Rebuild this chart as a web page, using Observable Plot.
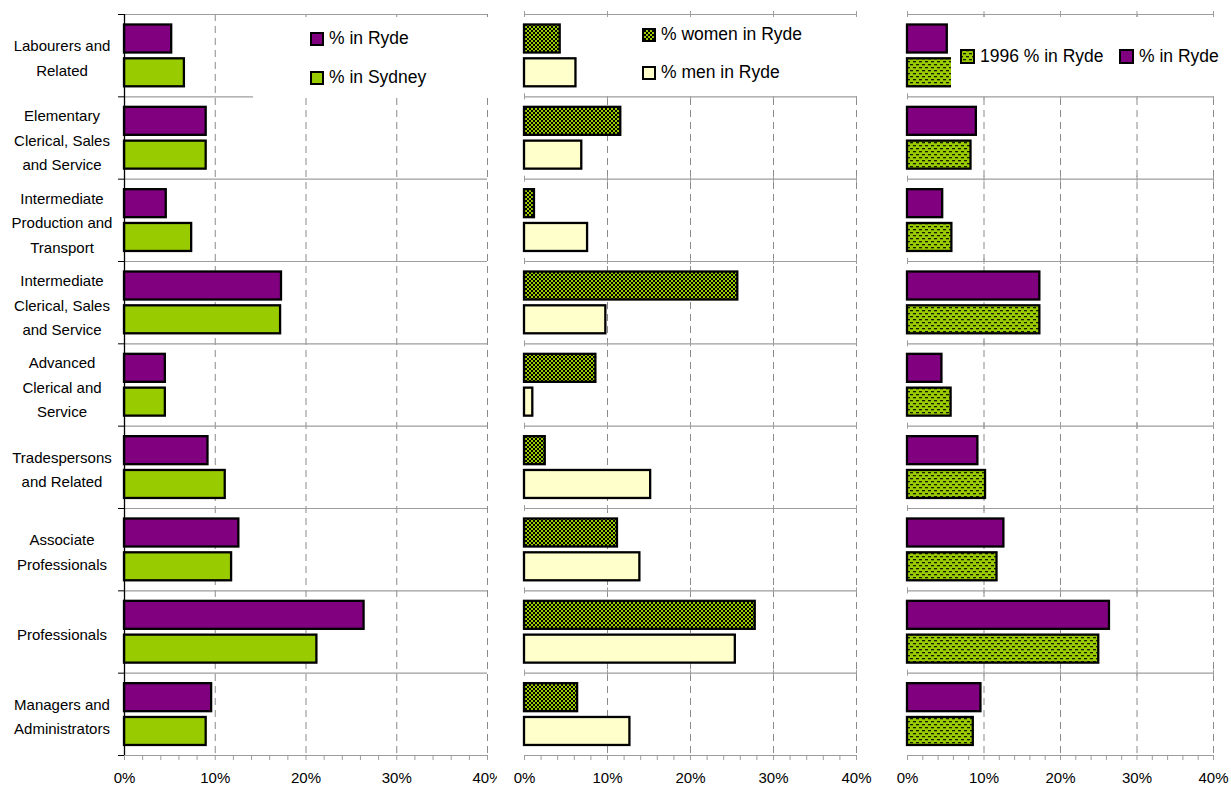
<!DOCTYPE html>
<html>
<head>
<meta charset="utf-8">
<script src="https://cdn.jsdelivr.net/npm/d3@7"></script>
<script src="https://cdn.jsdelivr.net/npm/@observablehq/plot@0.6"></script>
<style>
  body { margin: 0; background: #fff; color: #000; }
  #chart { position: relative; width: 1231px; height: 787px; overflow: hidden; font-family: "Liberation Sans", Arial, sans-serif; }
  .box { position: absolute; background: #fff; }
  .item { position: absolute; display: flex; align-items: center; white-space: nowrap; font-size: 17.5px; line-height: 1; color: #000; }
  .item svg { display: block; margin-right: 5px; flex: none; }
</style>
</head>
<body>
<svg width="0" height="0" style="position:absolute">
  <defs>
    <pattern id="checker" patternUnits="userSpaceOnUse" width="4" height="4">
      <rect width="4" height="4" fill="#99cc00"></rect>
      <rect x="0" y="0" width="2" height="2" fill="#000"></rect>
      <rect x="2" y="2" width="2" height="2" fill="#000"></rect>
    </pattern>
    <pattern id="dashes" patternUnits="userSpaceOnUse" width="6" height="6">
      <rect width="6" height="6" fill="#99cc00"></rect>
      <rect x="0" y="1" width="3" height="1.3" fill="#1a1a00"></rect>
      <rect x="3" y="4" width="3" height="1.3" fill="#1a1a00"></rect>
    </pattern>
  </defs>
</svg>
<div id="chart"></div>
<script>
// ---- data (values in %) ----
const categories = [
  "Labourers and\nRelated",
  "Elementary\nClerical, Sales\nand Service",
  "Intermediate\nProduction and\nTransport",
  "Intermediate\nClerical, Sales\nand Service",
  "Advanced\nClerical and\nService",
  "Tradespersons\nand Related",
  "Associate\nProfessionals",
  "Professionals",
  "Managers and\nAdministrators"
];
const pctRyde    = [5.2, 9.0, 4.6, 17.3, 4.5, 9.2, 12.6, 26.4, 9.6];
const pctSydney  = [6.6, 9.0, 7.4, 17.2, 4.5, 11.1, 11.8, 21.2, 9.0];
const pctWomen   = [4.3, 11.6, 1.2, 25.7, 8.6, 2.5, 11.2, 27.8, 6.4];
const pctMen     = [6.2, 6.9, 7.6, 9.8, 1.0, 15.2, 13.9, 25.4, 12.7];
const pctRyde1996 = [6.5, 8.3, 5.8, 17.3, 5.7, 10.2, 11.7, 25.0, 8.6];
const xTicks = [0, 10, 20, 30, 40];
const minorTicks = [0, 2, 4, 6, 8, 10, 12, 14, 16, 18, 20, 22, 24, 26, 28, 30, 32, 34, 36, 38, 40];

// ---- font detection for condensed category labels ----
function hasFont(name) {
  const ctx = document.createElement("canvas").getContext("2d");
  const s = "Labourers and Related Wmi";
  ctx.font = "40px monospace";
  const a = ctx.measureText(s).width;
  ctx.font = `40px "${name}", monospace`;
  return ctx.measureText(s).width !== a;
}
const narrow = hasFont("Liberation Sans Narrow");
const labelFont = narrow ? '"Liberation Sans Narrow", "Arial Narrow", sans-serif' : '"Liberation Sans", Arial, sans-serif';
const labelSize = narrow ? 18 : 15;
const labelLH = 24.5 / labelSize;

const H = 787, MT = 14, MB = 32;
const n = categories.length;
const BAND = (H - MT - MB) / n;
const idx = d3.range(n);
const bounds = d3.range(n + 1);
const crossings = bounds.slice(0, -1).flatMap(b => xTicks.map(x => ({x, b})));
const GRID = "#8a8a8a", LINE = "#9d9d9d";

function panel(o) {
  const marks = [
    Plot.ruleX(xTicks.slice(1), {stroke: GRID, strokeWidth: 1, strokeDasharray: "7,5"}),
    Plot.ruleY(bounds, {stroke: LINE, strokeWidth: 1.2}),
    Plot.axisX({ticks: minorTicks, tickSize: 5, tickFormat: () => "", stroke: LINE, label: null})
  ];
  if (o.crossTicks) {
    marks.push(Plot.ruleX(crossings, {x: d => d.x, y1: d => d.b, y2: d => d.b, insetTop: -3, insetBottom: -3, stroke: LINE}));
  }
  marks.push(
    Plot.rect(idx, {x1: 0, x2: i => o.top[i], y1: i => i, y2: i => i + 1,
      insetTop: 10.5, insetBottom: BAND - 38.5, fill: o.topFill, stroke: "#000", strokeWidth: 2.3}),
    Plot.rect(idx, {x1: 0, x2: i => o.bottom[i], y1: i => i, y2: i => i + 1,
      insetTop: 44.3, insetBottom: BAND - 72.3, fill: o.bottomFill, stroke: "#000", strokeWidth: 2.3}),
    Plot.axisX({ticks: xTicks, tickSize: 0, tickPadding: 17, tickFormat: d => d + "%", fontSize: 15, label: null})
  );
  if (o.labels) {
    marks.push(
      Plot.ruleX([0], {stroke: "#000", strokeWidth: 1.3}),
      Plot.axisY({ticks: bounds, tickSize: 6, tickFormat: () => "", stroke: "#000", label: null}),
      Plot.text(idx, {y: i => i + 0.5, text: i => categories[i], frameAnchor: "left", dx: -62.5,
        textAnchor: "middle", lineHeight: labelLH, fontSize: labelSize, fontFamily: labelFont, fill: "#000"})
    );
  }
  const svg = Plot.plot({
    width: o.width, height: H,
    marginTop: MT, marginBottom: MB, marginLeft: o.ml, marginRight: o.mr,
    x: {domain: [0, 40], label: null},
    y: {domain: [0, n], reverse: true, label: null, axis: o.labels ? undefined : null},
    style: {fontFamily: '"Liberation Sans", Arial, sans-serif', fontSize: "15px", background: "transparent", color: "#000"},
    marks
  });
  svg.style.position = "absolute";
  svg.style.left = o.left + "px";
  svg.style.top = "0px";
  svg.style.maxWidth = "none";
  svg.style.overflow = "hidden";
  return svg;
}

const chart = document.getElementById("chart");
chart.append(
  panel({left: 0, width: 497, ml: 124, mr: 10, top: pctRyde, bottom: pctSydney,
    topFill: "#800080", bottomFill: "#99cc00", labels: true}),
  panel({left: 497, width: 380, ml: 27, mr: 21, top: pctWomen, bottom: pctMen,
    topFill: "url(#checker)", bottomFill: "#ffffcc", crossTicks: true}),
  panel({left: 877, width: 354, ml: 30, mr: 18, top: pctRyde, bottom: pctRyde1996,
    topFill: "#800080", bottomFill: "url(#dashes)", crossTicks: true})
);

// ---- legends ----
function box(l, t, w, h) {
  const d = document.createElement("div");
  d.className = "box";
  Object.assign(d.style, {left: l + "px", top: t + "px", width: w + "px", height: h + "px"});
  chart.append(d);
}
function item(l, t, size, fill, label) {
  const d = document.createElement("div");
  d.className = "item";
  Object.assign(d.style, {left: l + "px", top: t + "px", height: size + "px"});
  d.innerHTML = `<svg width="${size}" height="${size}"><rect x="1" y="1" width="${size - 2}" height="${size - 2}" fill="${fill}" stroke="#000" stroke-width="2"></rect></svg><span>${label}</span>`;
  chart.append(d);
}
box(253, 17, 250, 81);
item(310, 32, 14, "#800080", "% in Ryde");
item(310, 71, 14, "#99cc00", "% in Sydney");
box(585, 17, 292, 79);
item(642, 28, 14, "url(#checker)", "% women in Ryde");
item(642, 66, 14, "#ffffcc", "% men in Ryde");
box(951, 17, 280, 79);
item(960, 49, 15, "url(#dashes)", "1996 % in Ryde");
item(1119, 49, 15, "#800080", "% in Ryde");
</script>
</body>
</html>
